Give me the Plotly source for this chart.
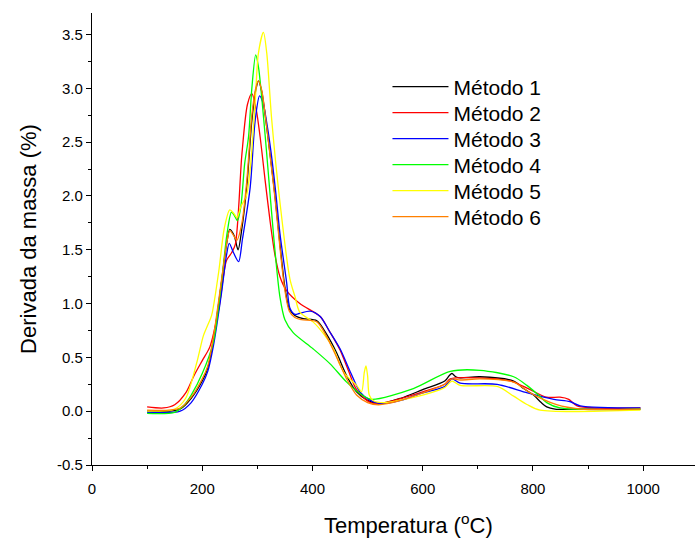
import plotly.graph_objects as go

names = ["Método 1", "Método 2", "Método 3", "Método 4", "Método 5", "Método 6"]
colors = ["#000000", "#ff0000", "#0000ff", "#00ff00", "#ffff00", "#ff8000"]

T1 = [100, 140, 160, 180, 200, 210, 220, 235, 245, 250, 258, 265, 272, 281, 290, 297, 302, 308, 315, 323, 332, 341, 350, 358, 368, 383, 408, 425, 444, 462, 480, 500, 520, 560, 600, 640, 648, 653, 660, 668, 704, 765, 783, 801, 815, 825, 840, 900, 995]
Y1 = [0.00, 0.00, 0.02, 0.12, 0.28, 0.40, 0.65, 1.20, 1.58, 1.69, 1.63, 1.50, 1.70, 2.10, 2.70, 2.98, 3.07, 2.97, 2.72, 2.39, 2.00, 1.55, 1.15, 0.95, 0.89, 0.86, 0.84, 0.72, 0.54, 0.33, 0.18, 0.10, 0.07, 0.12, 0.20, 0.28, 0.33, 0.35, 0.32, 0.31, 0.32, 0.28, 0.21, 0.15, 0.08, 0.04, 0.02, 0.02, 0.02]

T2 = [100, 130, 150, 170, 185, 200, 214, 230, 244, 253, 260, 272, 282, 290, 298, 305, 314, 323, 332, 341, 353, 377, 414, 430, 450, 465, 480, 505, 530, 600, 640, 650, 700, 760, 795, 825, 849, 865, 880, 920, 995]
Y2 = [0.04, 0.03, 0.06, 0.17, 0.33, 0.47, 0.60, 0.95, 1.40, 1.47, 1.55, 2.39, 2.85, 2.95, 2.80, 2.55, 2.15, 1.77, 1.45, 1.25, 1.12, 1.00, 0.88, 0.75, 0.57, 0.38, 0.20, 0.08, 0.08, 0.18, 0.25, 0.30, 0.31, 0.28, 0.20, 0.13, 0.13, 0.11, 0.05, 0.03, 0.03]

T3 = [100, 160, 180, 200, 210, 220, 235, 244, 249, 257, 266, 273, 287, 296, 304, 310, 318, 325, 333, 341, 353, 359, 368, 377, 396, 414, 430, 450, 470, 486, 505, 523, 560, 600, 640, 653, 668, 735, 790, 838, 867, 886, 995]
Y3 = [-0.01, 0.00, 0.08, 0.25, 0.37, 0.60, 1.10, 1.45, 1.56, 1.47, 1.39, 1.60, 2.08, 2.70, 2.93, 2.87, 2.65, 2.40, 2.05, 1.65, 1.20, 0.96, 0.90, 0.91, 0.93, 0.88, 0.75, 0.58, 0.35, 0.18, 0.10, 0.07, 0.10, 0.17, 0.23, 0.30, 0.26, 0.25, 0.17, 0.11, 0.09, 0.05, 0.03]

T4 = [100, 150, 166, 180, 200, 220, 235, 245, 253, 258, 264, 270, 277, 284, 290, 297, 302, 310, 317, 330, 341, 350, 365, 401, 432, 462, 493, 508, 583, 650, 704, 765, 789, 810, 825, 849, 995]
Y4 = [-0.02, -0.01, 0.05, 0.15, 0.35, 0.64, 1.20, 1.65, 1.85, 1.82, 1.77, 1.90, 2.30, 2.55, 3.00, 3.31, 3.20, 2.80, 2.39, 1.60, 1.06, 0.85, 0.73, 0.58, 0.44, 0.27, 0.14, 0.11, 0.21, 0.37, 0.38, 0.32, 0.24, 0.15, 0.08, 0.03, 0.02]

T5 = [100, 150, 170, 190, 202, 210, 217, 230, 240, 250, 257, 263, 270, 280, 287, 296, 302, 311, 317, 326, 341, 359, 368, 377, 401, 420, 438, 450, 460, 480, 489, 494, 497, 500, 503, 510, 530, 600, 640, 653, 668, 735, 765, 790, 813, 995]
Y5 = [0.00, 0.02, 0.12, 0.45, 0.70, 0.80, 0.89, 1.30, 1.70, 1.87, 1.84, 1.80, 1.90, 2.00, 2.25, 2.87, 3.33, 3.52, 3.33, 2.71, 1.94, 1.23, 1.07, 0.92, 0.83, 0.72, 0.58, 0.43, 0.34, 0.24, 0.18, 0.36, 0.42, 0.33, 0.15, 0.10, 0.08, 0.15, 0.22, 0.28, 0.24, 0.23, 0.14, 0.06, 0.01, 0.01]

T6 = [100, 140, 160, 180, 200, 210, 220, 235, 245, 250, 256, 263, 272, 281, 290, 297, 302, 308, 315, 323, 332, 341, 350, 358, 368, 380, 408, 425, 444, 462, 480, 500, 520, 560, 600, 640, 653, 668, 704, 765, 795, 843, 886, 995]
Y6 = [0.01, 0.01, 0.03, 0.13, 0.30, 0.42, 0.68, 1.22, 1.58, 1.68, 1.64, 1.59, 1.75, 2.15, 2.75, 3.00, 3.07, 2.98, 2.72, 2.38, 1.98, 1.52, 1.12, 0.93, 0.87, 0.85, 0.83, 0.70, 0.50, 0.30, 0.15, 0.08, 0.06, 0.10, 0.17, 0.25, 0.30, 0.29, 0.30, 0.27, 0.17, 0.06, 0.02, 0.02]

xs = [T1, T2, T3, T4, T5, T6]
ys = [Y1, Y2, Y3, Y4, Y5, Y6]

font_family = "Liberation Sans, Arial, sans-serif"
legend_keys = ["legend", "legend2", "legend3", "legend4", "legend5", "legend6"]

fig = go.Figure()
for i in range(6):
    fig.add_trace(go.Scatter(
        x=xs[i], y=ys[i], mode="lines", name=names[i],
        line=dict(color=colors[i], width=1.3, shape="spline", smoothing=0.8),
        legend=legend_keys[i],
    ))

H, T_M, B_M = 539, 13, 74
plot_h = H - T_M - B_M
legend_layout = {}
for i, key in enumerate(legend_keys):
    py = 87 + i * 26.0
    legend_layout[key] = dict(
        x=0.49, y=1 - (py - T_M) / plot_h, xanchor="left", yanchor="middle",
        bgcolor="rgba(0,0,0,0)", font=dict(size=21, family=font_family, color="black"),
        itemwidth=56, borderwidth=0,
    )

fig.update_layout(
    width=695, height=539,
    margin=dict(l=92, r=0, t=T_M, b=B_M, autoexpand=False),
    plot_bgcolor="white", paper_bgcolor="white",
    font=dict(family=font_family, color="black", size=15),
    showlegend=True,
    xaxis=dict(range=[0, 1094], tickvals=[0, 200, 400, 600, 800, 1000],
               ticks="outside", ticklen=5, tickwidth=1.3, tickcolor="black",
               showline=True, linecolor="black", linewidth=1.3,
               showgrid=False, zeroline=False, ticklabelstandoff=5,
               minor=dict(dtick=100, tick0=0, ticks="outside", ticklen=3, tickwidth=1.3, tickcolor="black"),
               tickfont=dict(size=15)),
    yaxis=dict(range=[-0.5, 3.7], tickvals=[-0.5, 0, 0.5, 1, 1.5, 2, 2.5, 3, 3.5],
               ticktext=["-0.5", "0.0", "0.5", "1.0", "1.5", "2.0", "2.5", "3.0", "3.5"],
               ticks="outside", ticklen=5, tickwidth=1.3, tickcolor="black",
               showline=True, linecolor="black", linewidth=1.3,
               showgrid=False, zeroline=False,
               minor=dict(dtick=0.25, tick0=0, ticks="outside", ticklen=3, tickwidth=1.3, tickcolor="black"),
               tickfont=dict(size=15),
               title=dict(text="Derivada da massa (%)", font=dict(size=22), standoff=14)),
    annotations=[dict(text="Temperatura (<sup>o</sup>C)", xref="paper", yref="paper",
                      x=0.525, y=-0.095, xanchor="center", yanchor="top",
                      showarrow=False, font=dict(size=22))],
    **legend_layout,
)

fig.write_html("out.html")
